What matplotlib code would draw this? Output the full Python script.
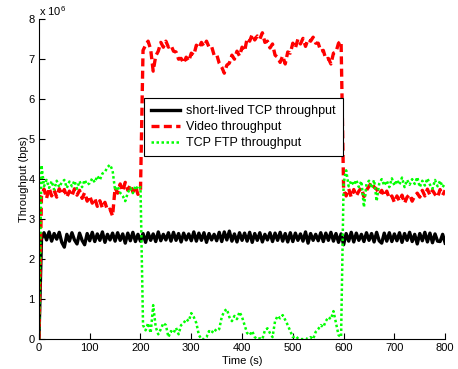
import numpy as np
import matplotlib
matplotlib.use("Agg")
import matplotlib.pyplot as plt

plt.rcParams['font.family'] = ['Liberation Sans', 'DejaVu Sans']
plt.rcParams['mathtext.default'] = 'regular'

# time axis, one sample every 5 s
time_s = np.arange(0, 801, 5)

# throughput values in units of 1e6 bps
short_tcp = [
    0.00, 2.50, 2.66, 2.48, 2.68, 2.45, 2.64, 2.50, 2.67, 2.42,
    2.30, 2.62, 2.45, 2.66, 2.48, 2.38, 2.65, 2.47, 2.36, 2.64,
    2.46, 2.67, 2.44, 2.63, 2.47, 2.68, 2.42, 2.62, 2.48, 2.65,
    2.45, 2.66, 2.47, 2.63, 2.40, 2.65, 2.46, 2.67, 2.44, 2.62,
    2.45, 2.64, 2.42, 2.66, 2.47, 2.63, 2.44, 2.68, 2.46, 2.62,
    2.48, 2.66, 2.45, 2.67, 2.47, 2.64, 2.43, 2.65, 2.48, 2.63,
    2.46, 2.68, 2.45, 2.65, 2.47, 2.66, 2.42, 2.64, 2.48, 2.62,
    2.46, 2.67, 2.44, 2.68, 2.48, 2.70, 2.45, 2.63, 2.43, 2.66,
    2.47, 2.65, 2.45, 2.67, 2.42, 2.64, 2.47, 2.66, 2.43, 2.62,
    2.48, 2.66, 2.44, 2.65, 2.47, 2.67, 2.45, 2.64, 2.43, 2.66,
    2.44, 2.65, 2.47, 2.63, 2.45, 2.68, 2.40, 2.64, 2.47, 2.62,
    2.46, 2.66, 2.44, 2.65, 2.47, 2.67, 2.45, 2.64, 2.42, 2.63,
    2.36, 2.64, 2.45, 2.67, 2.43, 2.65, 2.47, 2.62, 2.44, 2.66,
    2.47, 2.64, 2.43, 2.67, 2.46, 2.40, 2.65, 2.45, 2.66, 2.44,
    2.63, 2.46, 2.66, 2.42, 2.64, 2.47, 2.67, 2.44, 2.62, 2.38,
    2.64, 2.46, 2.67, 2.43, 2.65, 2.41, 2.63, 2.45, 2.44, 2.62,
    2.40,
]

video = [
    0.00, 3.58, 3.75, 3.52, 3.78, 3.58, 3.72, 3.55, 3.76, 3.62,
    3.74, 3.55, 3.70, 3.58, 3.76, 3.60, 3.72, 3.52, 3.66, 3.45,
    3.58, 3.40, 3.52, 3.32, 3.46, 3.28, 3.42, 3.22, 3.25, 3.08,
    3.78, 3.65, 3.88, 3.70, 3.92, 3.72, 3.86, 3.68, 3.82, 3.62,
    3.72, 7.22, 7.35, 7.45, 7.25, 6.70, 7.08, 7.20, 7.42, 7.30,
    7.45, 7.30, 7.35, 7.20, 7.18, 7.00, 7.02, 6.90, 7.05, 6.95,
    7.15, 7.10, 7.35, 7.28, 7.42, 7.32, 7.45, 7.30, 7.32, 7.10,
    7.12, 6.90, 6.80, 6.65, 6.85, 6.90, 7.10, 7.00, 7.20, 7.08,
    7.30, 7.20, 7.52, 7.45, 7.62, 7.48, 7.58, 7.50, 7.66, 7.42,
    7.45, 7.28, 7.38, 7.10, 7.05, 6.92, 7.08, 6.88, 7.18, 7.15,
    7.40, 7.28, 7.50, 7.38, 7.52, 7.32, 7.50, 7.45, 7.55, 7.40,
    7.40, 7.20, 7.22, 7.00, 7.02, 6.88, 7.15, 7.18, 7.40, 7.45,
    3.72, 3.58, 3.76, 3.55, 3.74, 3.58, 3.70, 3.78, 3.56, 3.72,
    3.82, 3.92, 3.80, 3.75, 3.62, 3.72, 3.58, 3.70, 3.52, 3.58,
    3.42, 3.58, 3.45, 3.60, 3.40, 3.55, 3.62, 3.45, 3.58, 3.65,
    3.55, 3.72, 3.58, 3.75, 3.60, 3.72, 3.62, 3.55, 3.74, 3.60,
    3.72,
]

tcp_ftp = [
    0.00, 4.35, 3.82, 3.98, 3.78, 3.95, 3.74, 3.96, 3.80, 3.92,
    3.98, 3.78, 3.94, 3.82, 3.96, 3.76, 3.95, 3.80, 3.98, 3.86,
    3.90, 4.02, 3.92, 4.08, 3.98, 4.14, 4.18, 4.30, 4.36, 4.22,
    3.72, 3.82, 3.66, 3.58, 3.45, 3.66, 3.78, 3.65, 3.84, 3.74,
    3.80, 0.35, 0.22, 0.40, 0.15, 0.85, 0.30, 0.12, 0.25, 0.40,
    0.35, 0.05, 0.20, 0.15, 0.28, 0.12, 0.35, 0.40, 0.50, 0.45,
    0.65, 0.55, 0.40, 0.10, 0.00, 0.00, 0.05, 0.20, 0.15, 0.25,
    0.20, 0.25, 0.55, 0.70, 0.75, 0.55, 0.45, 0.58, 0.50, 0.68,
    0.55, 0.35, 0.15, 0.10, 0.20, 0.05, 0.00, 0.02, 0.00, 0.22,
    0.27, 0.15, 0.05, 0.45, 0.58, 0.52, 0.60, 0.48, 0.35, 0.20,
    0.05, 0.08, 0.02, 0.00, 0.00, 0.02, 0.00, 0.05, 0.00, 0.18,
    0.25, 0.35, 0.30, 0.45, 0.55, 0.50, 0.70, 0.40, 0.10, 0.05,
    3.90, 4.22, 3.82, 3.96, 3.85, 3.98, 3.80, 3.95, 3.30, 3.88,
    3.96, 3.78, 3.98, 3.45, 3.88, 4.00, 3.84, 3.96, 3.80, 4.02,
    3.84, 3.98, 3.86, 4.04, 3.80, 3.98, 3.86, 4.00, 3.88, 4.05,
    3.80, 3.96, 3.84, 4.02, 3.86, 3.76, 3.98, 3.82, 3.96, 3.80,
    3.90,
]

series_labels = ['short-lived TCP throughput', 'Video throughput', 'TCP FTP throughput']

fig = plt.figure(figsize=(4.58, 3.69), dpi=100)
ax = fig.add_axes([0.085, 0.081, 0.887, 0.867])

ax.plot(time_s, short_tcp, color='black', linewidth=2.4, label=series_labels[0])
ax.plot(time_s, video, color='#ff0000', linewidth=2.4, linestyle=(0, (2.4, 1.3)),
        label=series_labels[1])
ax.plot(time_s, tcp_ftp, color='#00ff00', linewidth=1.8, linestyle=(0, (1, 1.0)),
        label=series_labels[2])

ax.set_xlim(0, 800)
ax.set_ylim(0, 8)
ax.set_xticks(range(0, 801, 100))
ax.set_yticks(range(0, 9))
ax.tick_params(direction='in', length=4, width=0.8, labelsize=8, pad=3)
for side in ['top', 'right']:
    ax.spines[side].set_visible(False)
for side in ['left', 'bottom']:
    ax.spines[side].set_linewidth(0.8)

ax.set_xlabel('Time (s)', fontsize=8, labelpad=2)
ax.set_ylabel('Throughput (bps)', fontsize=8, labelpad=0)
ax.text(0.0, 1.005, r'x 10$^6$', transform=ax.transAxes, fontsize=8,
        ha='left', va='bottom')

leg = ax.legend(loc='upper left', bbox_to_anchor=(0.2586, 0.753), fontsize=9,
                handlelength=2.3, borderpad=0.58, labelspacing=0.3,
                handletextpad=0.5, borderaxespad=0, fancybox=False,
                framealpha=1, edgecolor='black')
leg.get_frame().set_linewidth(0.8)

fig.savefig('out.png', dpi=100)
